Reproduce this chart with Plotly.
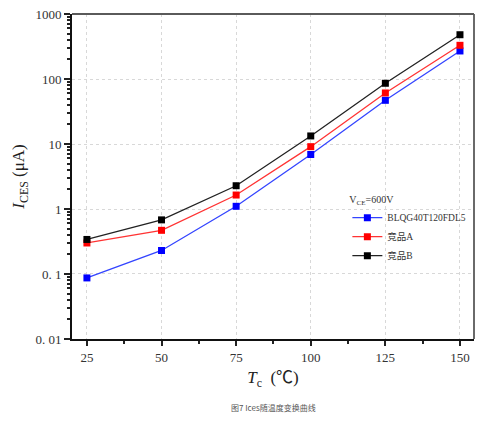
import plotly.graph_objects as go

temps = [25, 50, 75, 100, 125, 150]
blq = [0.087, 0.23, 1.1, 6.9, 47, 270]
comp_a = [0.30, 0.47, 1.64, 9.1, 61, 330]
comp_b = [0.34, 0.68, 2.28, 13.3, 86, 480]

series_names = ["BLQG40T120FDL5", "竞品A", "竞品B"]
series_colors = ["#0000ff", "#ff0000", "#000000"]
line_colors = ["#3344ff", "#ff3333", "#222222"]

y_tickvals = [0.01, 0.1, 1, 10, 100, 1000]
y_ticktext = ["0. 01", "0. 1", "1", "10", "100", "1000"]
y_minor_vals = [m * 10 ** e for e in range(-2, 3) for m in range(2, 10)]
x_tickvals = [25, 50, 75, 100, 125, 150]

serif = "Liberation Serif, Times New Roman, Noto Sans CJK SC, serif"

fig = go.Figure()
for name, vals, mc, lc in zip(series_names, [blq, comp_a, comp_b], series_colors, line_colors):
    fig.add_trace(go.Scatter(
        x=temps, y=vals, name=name, mode="lines+markers",
        line=dict(color=lc, width=1.3),
        marker=dict(symbol="square", size=7, color=mc),
    ))

border = dict(color="#5a5a5a", width=1.8)
fig.update_layout(
    width=475, height=413,
    margin=dict(l=64, r=9, t=6, b=82),
    paper_bgcolor="white", plot_bgcolor="white",
    font=dict(family=serif, size=13, color="#222"),
    showlegend=True,
    legend=dict(
        x=0.685, y=0.458, xanchor="left", yanchor="top",
        bgcolor="rgba(0,0,0,0)",
        font=dict(family=serif, size=9.5, color="#333"),
        title=dict(text="V<sub>CE</sub>=600V", font=dict(family=serif, size=10, color="#333")),
        itemwidth=30, tracegroupgap=0,
    ),
    shapes=[
        dict(type="line", xref="paper", yref="paper", x0=0, x1=1, y0=1, y1=1, line=border, layer="above"),
        dict(type="line", xref="paper", yref="paper", x0=1, x1=1, y0=0, y1=1, line=border, layer="above"),
    ],
    annotations=[
        dict(text="图7 Ices随温度变换曲线", x=0.5, y=-0.212, xref="paper", yref="paper",
             xanchor="center", yanchor="middle", showarrow=False,
             font=dict(family="Noto Sans CJK SC, sans-serif", size=8, color="#555")),
    ],
)

fig.update_xaxes(
    range=[20, 154.7], tickvals=x_tickvals, automargin=False,
    ticks="outside", ticklen=5, tickwidth=1.5, tickcolor="#222",
    showline=True, linecolor="#111", linewidth=2, mirror=False,
    showgrid=True, gridcolor="#d8d8d8", griddash="dot", gridwidth=1,
    zeroline=False, ticklabeloverflow="allow",
    minor=dict(ticks="outside", ticklen=3, tickcolor="#222", dtick=12.5, tick0=25, showgrid=False),
    tickfont=dict(family=serif, size=13, color="#333"),
    title=dict(text="<i>T</i><sub>c</sub>  (℃)", font=dict(family=serif, size=17, color="#222"), standoff=8),
)
fig.update_yaxes(
    type="log", range=[-2.0002, 3.0002], tickvals=y_tickvals, ticktext=y_ticktext, automargin=False,
    ticks="outside", ticklen=6, tickwidth=1.5, tickcolor="#222",
    showline=True, linecolor="#111", linewidth=2, mirror=False,
    showgrid=True, gridcolor="#d8d8d8", griddash="dot", gridwidth=1,
    zeroline=False, ticklabeloverflow="allow",
    minor=dict(ticks="outside", ticklen=3, tickcolor="#222", tickmode="array",
               tickvals=y_minor_vals, showgrid=False),
    tickfont=dict(family=serif, size=13, color="#333"),
    title=dict(text="<i>I</i><sub>CES</sub> (μA)", font=dict(family=serif, size=17, color="#222"), standoff=6),
)

fig.write_html("out.html")
